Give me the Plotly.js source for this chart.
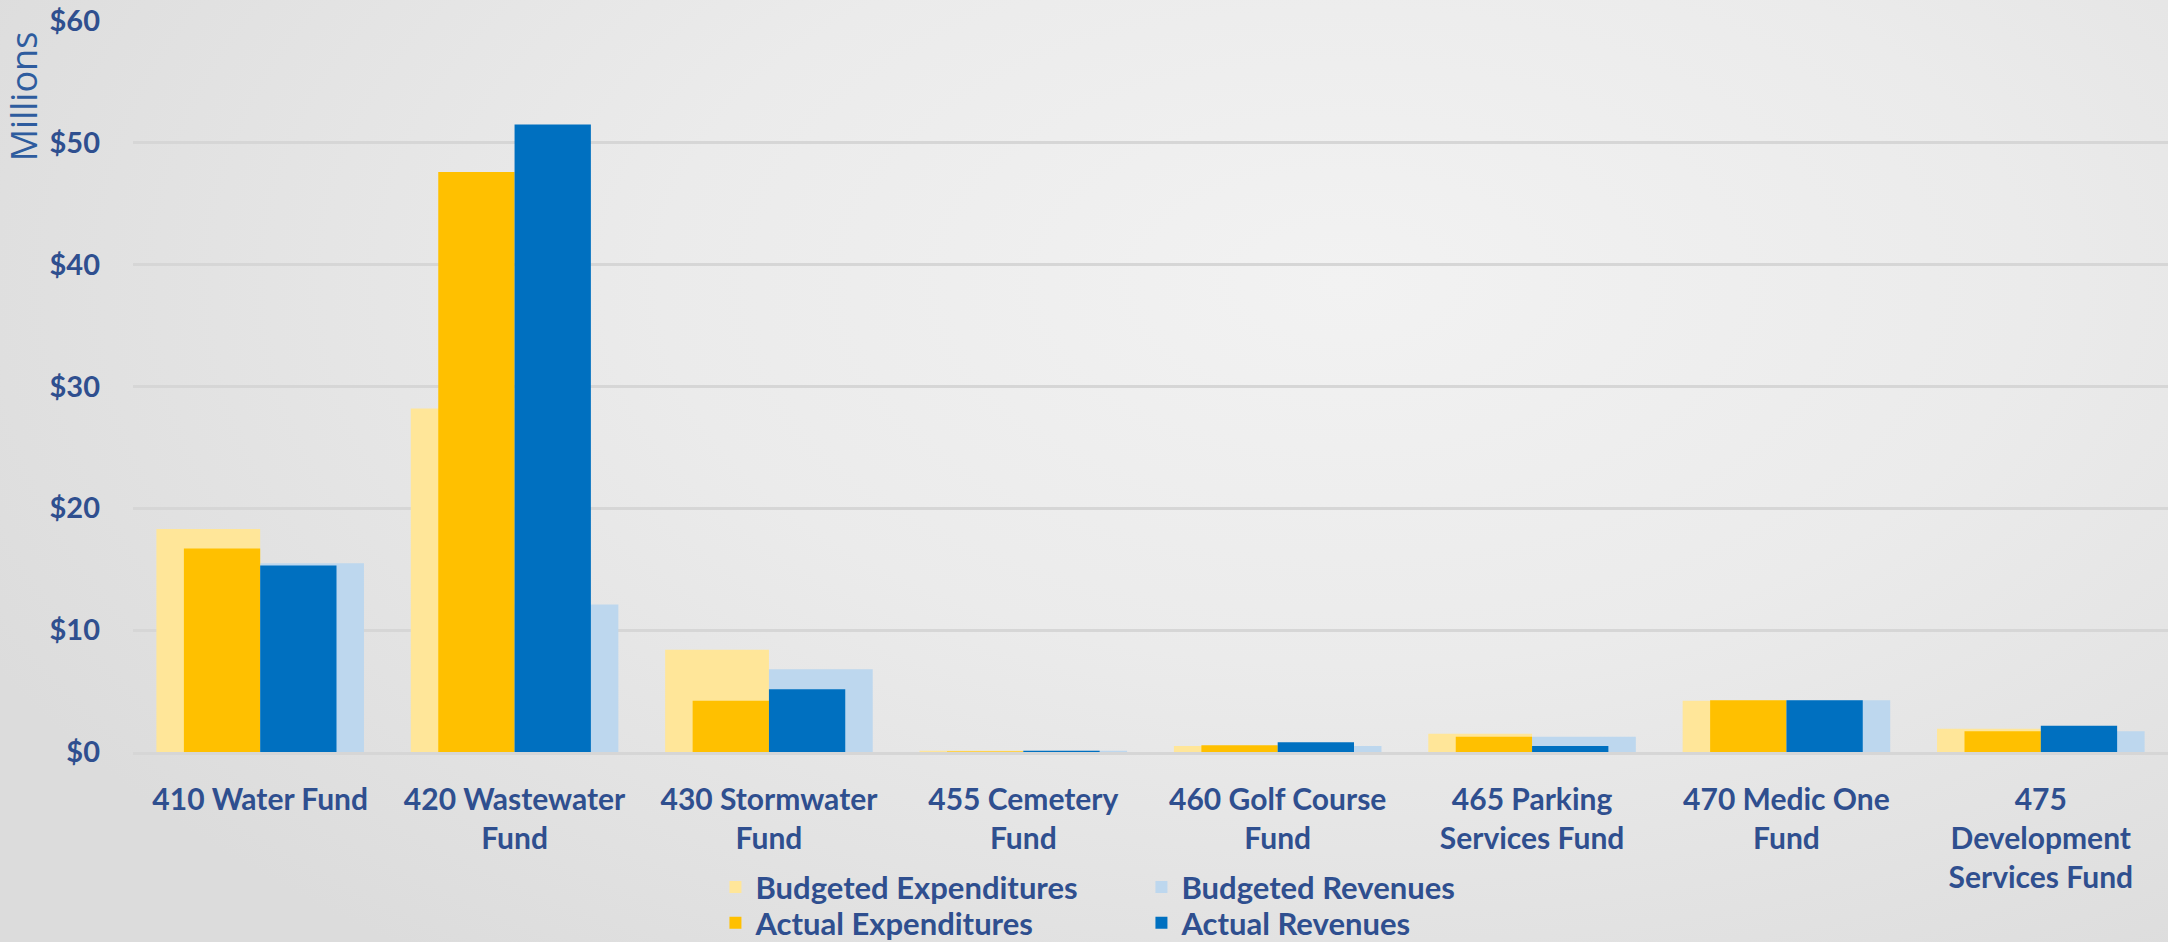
<!DOCTYPE html>
<html>
<head>
<meta charset="utf-8">
<script src="https://cdn.plot.ly/plotly-3.0.1.min.js"></script>
<style>
  html, body { margin: 0; padding: 0; }
  #chart {
    width: 2168px;
    height: 942px;
    background: radial-gradient(ellipse 70% 90% at 62% 30%, #f2f2f2 0%, #ebebeb 45%, #dcdcdc 100%);
  }
</style>
</head>
<body>
<div id="chart"></div>
<script>
const funds = [
  "410 Water Fund",
  "420 Wastewater<br>Fund",
  "430 Stormwater<br>Fund",
  "455 Cemetery<br>Fund",
  "460 Golf Course<br>Fund",
  "465 Parking<br>Services Fund",
  "470 Medic One<br>Fund",
  "475<br>Development<br>Services Fund"
];

// values in millions of dollars
const budgetedExpenditures = [18.3, 28.2, 8.4, 0.1, 0.5, 1.5, 4.2, 1.9];
const budgetedRevenues     = [15.5, 12.1, 6.8, 0.1, 0.5, 1.25, 4.25, 1.7];
const actualExpenditures   = [16.7, 47.6, 4.2, 0.05, 0.55, 1.25, 4.25, 1.7];
const actualRevenues       = [15.3, 51.5, 5.15, 0.1, 0.8, 0.5, 4.25, 2.15];

const navy = "#2f4f8f";
const font = "Lato, 'Open Sans', sans-serif";

const wide = 0.408;
const narrow = 0.3;

const traces = [
  {
    type: "bar", name: "Budgeted Expenditures", x: funds, y: budgetedExpenditures,
    width: wide, offset: -wide, marker: { color: "#ffe699" }, legend: "legend"
  },
  {
    type: "bar", name: "Budgeted Revenues", x: funds, y: budgetedRevenues,
    width: wide, offset: 0, marker: { color: "#bdd7ee" }, legend: "legend"
  },
  {
    type: "bar", name: "Actual Expenditures", x: funds, y: actualExpenditures,
    width: narrow, offset: -narrow, marker: { color: "#ffc000" }, legend: "legend2"
  },
  {
    type: "bar", name: "Actual Revenues", x: funds, y: actualRevenues,
    width: narrow, offset: 0, marker: { color: "#0070c0" }, legend: "legend2"
  }
];

const legendBase = {
  orientation: "h",
  xref: "container", yref: "container",
  xanchor: "left", yanchor: "middle",
  entrywidth: 381, entrywidthmode: "pixels",
  bgcolor: "rgba(0,0,0,0)",
  font: { family: font, size: 31, color: navy, weight: "bold" },
  itemwidth: 30
};

const layout = {
  width: 2168,
  height: 942,
  margin: { l: 133, r: 0, t: 21, b: 190 },
  paper_bgcolor: "rgba(0,0,0,0)",
  plot_bgcolor: "rgba(0,0,0,0)",
  barmode: "overlay",
  font: { family: font, color: navy },
  xaxis: {
    type: "category",
    tickfont: { family: font, size: 30, color: navy, weight: "bold" },
    ticks: "",
    ticklabelstandoff: 19,
    tickangle: 0,
    showline: true,
    linecolor: "#d6d6d6",
    linewidth: 3
  },
  yaxis: {
    range: [0, 60],
    dtick: 10,
    tickprefix: "$",
    tickfont: { family: font, size: 29, color: navy, weight: "bold" },
    gridcolor: "#d6d6d6",
    gridwidth: 3,
    zeroline: false,
    ticklabelstandoff: 32,
    fixedrange: true
  },
  legend: Object.assign({}, legendBase, { x: 0.33, y: 0.058 }),
  legend2: Object.assign({}, legendBase, { x: 0.33, y: 0.020 }),
  annotations: [
    {
      text: "Millions",
      xref: "paper", yref: "paper",
      x: -0.0668, y: 0.988,
      xanchor: "left", yanchor: "top",
      textangle: -90,
      showarrow: false,
      font: { family: "'Open Sans', sans-serif", size: 36, color: "#2e5c9e" }
    }
  ],
  showlegend: true
};

Plotly.newPlot("chart", traces, layout, { displayModeBar: false, staticPlot: true });
</script>
</body>
</html>
